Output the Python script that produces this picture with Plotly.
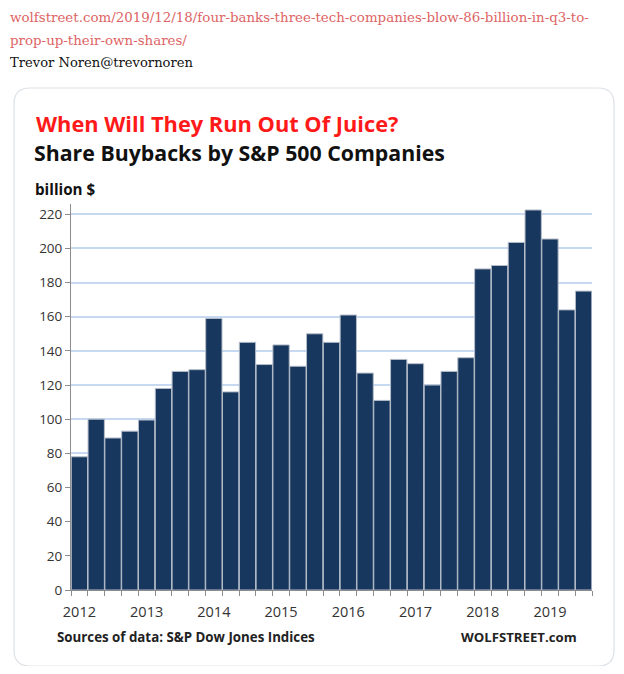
import plotly.graph_objects as go

# page body has an 8px margin; figure sized to fit inside the 624x674 window
OFF = 8
W, H = 624 - 2 * OFF, 674 - 2 * OFF

quarters = [f"{y}Q{q}" for y in range(2012, 2020) for q in range(1, 5)][:31]
buybacks = [78, 100, 89, 93, 99.5, 118, 128, 129,
            159, 116, 145, 132, 143.5, 131, 150, 145,
            161, 127, 111, 135, 132.5, 120, 128, 136,
            188, 190, 203.5, 222.5, 205.5, 164, 175]
year_labels = [q[:4] if q.endswith("Q1") else "" for q in quarters]
y_ticks = list(range(0, 221, 20))

title_red = "When Will They Run Out Of Juice?"
title_main = "Share Buybacks by S&P 500 Companies"
unit_label = "billion $"
source_text = "Sources of data: S&P Dow Jones Indices"
brand_text = "WOLFSTREET.com"
link_line1 = "wolfstreet.com/2019/12/18/four-banks-three-tech-companies-blow-86-billion-in-q3-to-"
link_line2 = "prop-up-their-own-shares/"
author_text = "Trevor Noren@trevornoren"

# plot area in window pixels
PL, PR, PT, PB = 71, 592, 204, 590

def px(x):
    return (x - OFF) / W

def py(y):
    return 1 - (y - OFF) / H

fig = go.Figure()
fig.add_trace(go.Bar(
    x=quarters, y=buybacks,
    marker=dict(color="#17375E", line=dict(color="#b4bcc8", width=1)),
    hoverinfo="x+y",
))

sans = "Open Sans, DejaVu Sans, sans-serif"
serif = "DejaVu Serif, Georgia, serif"

annotations = [
    dict(text=link_line1, x=px(8), y=py(18), font=dict(family=serif, size=13.4, color="#dd6464")),
    dict(text=link_line2, x=px(8), y=py(40), font=dict(family=serif, size=13.4, color="#dd6464")),
    dict(text=author_text, x=px(8), y=py(62), font=dict(family=serif, size=13.1, color="#111111")),
    dict(text=f"<b>{title_red}</b>", x=px(34), y=py(124), font=dict(family=sans, size=21.8, color="#ff1a1a")),
    dict(text=f"<b>{title_main}</b>", x=px(32), y=py(153), font=dict(family=sans, size=21.3, color="#111111")),
    dict(text=f"<b>{unit_label}</b>", x=px(33), y=py(189), font=dict(family=sans, size=15.2, color="#111111")),
    dict(text=f"<b>{source_text}</b>", x=px(55), y=py(637), font=dict(family=sans, size=13.3, color="#222222")),
    dict(text=f"<b>{brand_text}</b>", x=px(579), y=py(637), xanchor="right", font=dict(family=sans, size=13.2, color="#222222")),
]
for a in annotations:
    a.setdefault("xanchor", "left")
    a.update(xref="paper", yref="paper", yanchor="middle", showarrow=False)

# rounded card border
x0, x1, y0, y1, r = 14, 614, 88, 666, 16
path = (f"M {px(x0+r)} {py(y0)} L {px(x1-r)} {py(y0)} Q {px(x1)} {py(y0)} {px(x1)} {py(y0+r)} "
        f"L {px(x1)} {py(y1-r)} Q {px(x1)} {py(y1)} {px(x1-r)} {py(y1)} "
        f"L {px(x0+r)} {py(y1)} Q {px(x0)} {py(y1)} {px(x0)} {py(y1-r)} "
        f"L {px(x0)} {py(y0+r)} Q {px(x0)} {py(y0)} {px(x0+r)} {py(y0)} Z")

fig.update_layout(
    width=W, height=H,
    margin=dict(l=0, r=0, t=0, b=0, pad=0, autoexpand=False),
    paper_bgcolor="white", plot_bgcolor="white",
    showlegend=False,
    bargap=0.03,
    annotations=annotations,
    shapes=[dict(type="path", path=path, xref="paper", yref="paper",
                 line=dict(color="#dde1e6", width=1.2), layer="below")],
    xaxis=dict(
        domain=[px(PL), px(PR)],
        type="category", automargin=False,
        tickmode="array", tickvals=quarters, ticktext=year_labels,
        tickangle=0, ticklabelstandoff=9,
        tickson="boundaries", ticks="outside", ticklen=5, tickcolor="#8c8c8c",
        showline=True, linecolor="#8c8c8c", linewidth=1,
        showgrid=False, zeroline=False,
        tickfont=dict(family=sans, size=14.5, color="#333333"),
        fixedrange=True,
    ),
    yaxis=dict(
        domain=[py(PB), py(PT)],
        automargin=False,
        range=[0, 226],
        tickmode="array", tickvals=y_ticks,
        ticks="outside", ticklen=5, tickcolor="#8c8c8c",
        showline=True, linecolor="#8c8c8c", linewidth=1,
        showgrid=True, gridcolor="#c6d9f1", gridwidth=1.5,
        zeroline=False,
        tickfont=dict(family=sans, size=13.5, color="#333333"),
        fixedrange=True,
    ),
)

fig.write_html("out.html")
